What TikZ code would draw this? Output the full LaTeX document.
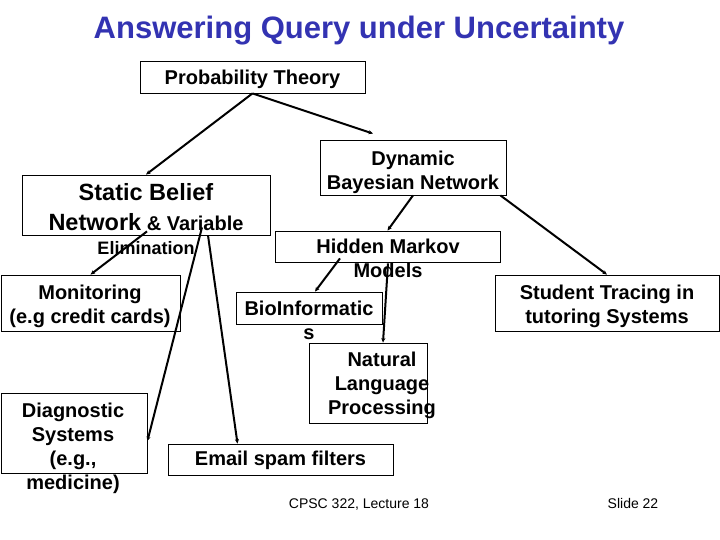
\documentclass[tikz,border=0pt]{standalone}
\usepackage{fontspec}
\setmainfont{Liberation Sans}
\usetikzlibrary{arrows.meta,positioning,calc}
\definecolor{qblue}{HTML}{3333B2}
\tikzset{
  box/.style={draw=black,fill=white,line width=0.8pt,inner sep=0pt},
  txt/.style={font=\fontsize{20}{24}\selectfont\bfseries,align=center,inner sep=0pt},
  arr/.style={-{Stealth[length=4.5pt,width=4pt]},line width=2pt,draw=black},
  foot/.style={font=\fontsize{14}{16}\selectfont,inner sep=0pt,anchor=base},
}
\begin{document}
\begin{tikzpicture}[x=1pt,y=-1pt]
  \fill[white] (0,0) rectangle (720,540);
  \useasboundingbox (0,0) rectangle (720,540);
  \node[font=\fontsize{31}{36}\selectfont\bfseries,text=qblue,inner sep=0pt] (title) at (359,31) {Answering Query under Uncertainty};
  \foreach \nm/\l/\t/\r/\b in {pt/140/61/365/93, sbn/22/175/270/235, dbn/320/140/506/195,
      hmm/275/231/500/262, mon/1/275/180/331, bio/236/292/382/324, stu/495/275/719/331,
      nlp/309/343/427/423, dia/1/393/147/473, email/168/444/393/475} {
    \node[box,minimum width={(\r-\l)*1pt},minimum height={(\b-\t)*1pt}] (\nm) at ({(\l+\r)/2},{(\t+\b)/2}) {};
  }
  \node[txt] (ptt) at (252.5,79) {Probability Theory};
  \node[txt] (sbnt) at (146,219) {{\fontsize{23.5}{28}\selectfont Static Belief}\\[6pt]{\fontsize{23.5}{28}\selectfont Network} \& Variable\\{\fontsize{18}{24}\selectfont Elimination}};
  \node[txt] (dbnt) at (413,172) {Dynamic\\Bayesian Network};
  \node[txt] (hmmt) at (388,258.5) {Hidden Markov\\Models};
  \node[txt] (mont) at (90,306) {Monitoring\\(e.g credit cards)};
  \node[txt] (biot) at (309,320.5) {BioInformatic\\s};
  \node[txt] (stut) at (607,306) {Student Tracing in\\tutoring Systems};
  \node[txt] (nlpt) at (382,385) {Natural\\Language\\Processing};
  \node[txt] (diat) at (73,448) {Diagnostic\\Systems\\(e.g.,\\medicine)};
  \node[txt] (emailt) at (280.5,460) {Email spam filters};
  \node[foot] (lec) at (359,508) {CPSC 322, Lecture 18};
  \node[foot] (sld) at (633,508) {Slide 22};
  \draw[arr] (pt.south) -- (sbn.north);
  \draw[arr] (pt.south) -- ([shift={(-40,-6)}]dbn.north);
  \draw[arr] ([shift={(1,-4)}]sbn.south) -- (mon.north);
  \draw[arr] ([shift={(56,-8)}]sbn.south) -- ([shift={(0,8)}]dia.east);
  \draw[arr] ([shift={(62,0)}]sbn.south) -- ([shift={(-43,0)}]email.north);
  \draw[arr] (dbn.south) -- (hmm.north);
  \draw[arr] ([shift={(-6,0)}]dbn.south east) -- (stu.north);
  \draw[arr] ([shift={(-47.5,-4)}]hmm.south) -- ([shift={(6,0)}]bio.north);
  \draw[arr] ([shift={(0.5,1)}]hmm.south) -- ([shift={(15,0)}]nlp.north);
\end{tikzpicture}
\end{document}
